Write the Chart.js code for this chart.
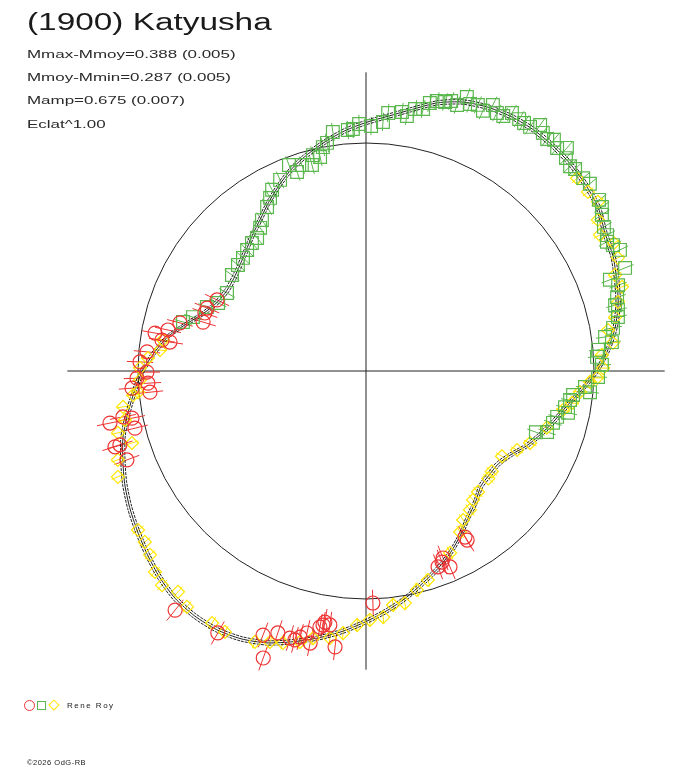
<!DOCTYPE html>
<html>
<head>
<meta charset="UTF-8">
<title>(1900) Katyusha</title>
<script src="https://cdn.jsdelivr.net/npm/chart.js"></script>
<style>
    body { margin: 0; background: #fff; }
    #wrap {
        position: relative; width: 688px; height: 768px; overflow: hidden;
        font-family: "Liberation Sans", Arial, sans-serif; color: #1a1a1a;
    }
    #chart { position: absolute; left: 0; top: 0; }
    .txt {
        position: absolute; left: 27px; white-space: nowrap; line-height: 1;
        transform-origin: 0 0; transform: scaleX(1.45);
    }
    #title { font-size: 23px; top: 10.5px; }
    .sub { font-size: 11.7px; color: #2a2a2a; }
    .mk { position: absolute; box-sizing: border-box; }
    #legtext { position: absolute; left: 67px; top: 702px; font-size: 8px; letter-spacing: 1.5px; line-height: 1; }
    #copy { position: absolute; left: 27px; top: 759px; font-size: 7.5px; letter-spacing: 0.5px; line-height: 1; }
</style>
</head>
<body>
<div id="wrap">
    <canvas id="chart" width="688" height="768"></canvas>
    <div id="title" class="txt">(1900) Katyusha</div>
    <div class="txt sub" style="top:47.6px">Mmax-Mmoy=0.388 (0.005)</div>
    <div class="txt sub" style="top:70.6px">Mmoy-Mmin=0.287 (0.005)</div>
    <div class="txt sub" style="top:94.1px">Mamp=0.675 (0.007)</div>
    <div class="txt sub" style="top:117.6px">Eclat^1.00</div>
    <div class="mk" style="left:23.5px;top:699.5px;width:11px;height:11px;border:1px solid #ee3333;border-radius:50%"></div>
    <div class="mk" style="left:37px;top:700.5px;width:9px;height:9px;border:1px solid #5bb84e"></div>
    <div class="mk" style="left:50.1px;top:701.1px;width:7.8px;height:7.8px;border:1px solid #ffe600;transform:rotate(45deg)"></div>
    <div id="legtext">Rene Roy</div>
    <div id="copy">©2026 OdG-RB</div>
</div>

<script>
    // polar light curve: angle = phase (deg, counter-clockwise from +x), radius in units of the mean circle
    const curveAngle = [-180, -175, -170, -165, -160, -155, -150, -145, -140, -135, -130, -125,
        -120, -115, -110, -105, -100, -95, -90, -85, -80, -75, -70, -65,
        -60, -55, -50, -45, -40, -35, -30, -25, -20, -15, -10, -5,
        0, 5, 10, 15, 20, 25, 30, 35, 40, 45, 50, 55,
        60, 65, 70, 75, 80, 85, 90, 95, 100, 105, 110, 115,
        120, 125, 130, 135, 140, 145, 150, 155, 160, 165, 170, 175];
    const curveRadius = [0.982, 1.020, 1.060, 1.103, 1.135, 1.168, 1.197, 1.224, 1.252, 1.280, 1.302, 1.311,
        1.310, 1.296, 1.269, 1.229, 1.188, 1.145, 1.099, 1.055, 1.010, 0.963, 0.922, 0.878,
        0.830, 0.782, 0.748, 0.713, 0.707, 0.709, 0.734, 0.777, 0.814, 0.853, 0.893, 0.950,
        1.012, 1.065, 1.110, 1.145, 1.170, 1.195, 1.210, 1.245, 1.262, 1.275, 1.283, 1.288,
        1.285, 1.275, 1.255, 1.218, 1.165, 1.122, 1.090, 1.058, 1.022, 0.985, 0.946, 0.900,
        0.854, 0.810, 0.776, 0.745, 0.722, 0.708, 0.705, 0.718, 0.752, 0.810, 0.880, 0.932];
    const curveBand = 0.01;

    const greenAngle = [165.0, 162.7, 158.1, 155.3, 150.7, 144.4, 140.4, 137.4, 134.5, 131.7, 129.3, 126.5,
        124.6, 121.1, 119.0, 117.4, 114.2, 110.5, 109.1, 107.3, 104.7, 103.8, 102.1, 100.9,
        99.7, 97.9, 94.3, 93.1, 91.6, 88.8, 86.1, 85.1, 82.1, 80.9, 79.4, 77.7,
        76.6, 75.3, 73.6, 72.5, 71.1, 69.8, 68.7, 67.2, 65.8, 64.5, 63.1, 61.7,
        60.5, 58.7, 57.5, 56.1, 54.7, 53.4, 52.0, 50.9, 49.4, 48.0, 46.8, 45.1,
        44.0, 41.6, 39.9, 36.3, 34.8, 33.5, 31.2, 29.4, 28.2, 27.0, 25.5, 21.7,
        20.5, 18.8, 16.4, 14.8, 13.6, 12.1, 9.9, 8.1, 6.7, 5.2, 3.5, 1.5,
        -1.5, -5.4, -4.2, -6.6, -8.1, -10.3, -11.7, -13.5, -15.5, -18.6, -19.8];
    const greenRadius = [0.831, 0.795, 0.752, 0.714, 0.699, 0.723, 0.729, 0.733, 0.744, 0.752, 0.754, 0.781,
        0.804, 0.840, 0.868, 0.895, 0.919, 0.965, 0.924, 0.946, 0.934, 0.975, 0.960, 1.000,
        1.015, 1.058, 1.060, 1.063, 1.084, 1.075, 1.095, 1.136, 1.147, 1.133, 1.169, 1.176,
        1.208, 1.224, 1.230, 1.242, 1.233, 1.281, 1.257, 1.266, 1.251, 1.293, 1.269, 1.270,
        1.300, 1.293, 1.290, 1.290, 1.322, 1.301, 1.291, 1.307, 1.288, 1.317, 1.281, 1.268,
        1.275, 1.274, 1.280, 1.268, 1.260, 1.241, 1.220, 1.214, 1.199, 1.216, 1.234, 1.223,
        1.142, 1.168, 1.148, 1.130, 1.137, 1.130, 1.100, 1.059, 1.086, 1.022, 1.015, 1.035,
        1.018, 0.987, 0.963, 0.914, 0.904, 0.887, 0.905, 0.862, 0.851, 0.838, 0.792];

    const yellowAngle = [42.4, 38.9, 36.1, 33.1, 30.2, 27.3, 24.2, 21.1, 18.2, 15.3, 12.2, 9.6,
        6.5, 3.9, 0.7, -1.7, -2.8, -5.6, -8.8, -11.2, -17.4, -23.7, -27.6, -32.1,
        -38.6, -41.3, -47.2, -50.3, -53.2, -56.9, -59.7, -65.2, -73.5, -76.9, -80.5, -83.4,
        -86.0, -89.1, -92.0, -95.0, -97.7, -101.2, -103.7, -107.0, -109.5, -112.3, -118.4, -121.4,
        -127.2, -130.4, -133.6, -136.4, -139.6, -142.3, -145.1, -156.9, -160.3, -162.9, -166.0, -168.5,
        -171.6, -174.1, -174.7, -177.7, 179.2, 176.6, 174.2, 171.3];
    const yellowRadius = [1.254, 1.251, 1.259, 1.214, 1.187, 1.224, 1.211, 1.171, 1.182, 1.146, 1.118, 1.077,
        1.090, 1.037, 1.040, 1.014, 0.984, 0.943, 0.914, 0.881, 0.831, 0.786, 0.748, 0.704,
        0.706, 0.714, 0.723, 0.735, 0.761, 0.780, 0.818, 0.879, 0.956, 0.986, 1.032, 1.033,
        1.082, 1.092, 1.115, 1.154, 1.182, 1.194, 1.223, 1.247, 1.261, 1.284, 1.301, 1.295,
        1.299, 1.272, 1.297, 1.278, 1.244, 1.226, 1.219, 1.183, 1.156, 1.074, 1.121, 1.079,
        1.077, 1.027, 1.004, 0.992, 0.991, 0.958, 0.908, 0.901];

    const redAngle = [-59.1, -59.2, -67.6, -66.8, -69.8, -68.3, -88.3, -96.4, -98.1, -99.6, -100.2, -102.7,
        -103.9, -105.9, -108.6, -111.3, -109.7, -119.5, -128.6, -101.6, -104.8, -99.3, -168.5, -166.1,
        -163.3, -159.6, -163.2, -175.8, -169.3, -178.2, -176.8, -179.7, 177.7, 175.0, 169.8, 168.3,
        171.6, 171.4, 163.3, 160.2, 154.5, 158.4, 165.5, -168.6, -174.4];
    const redRadius = [0.864, 0.848, 0.887, 0.935, 0.915, 0.902, 1.018, 1.218, 1.125, 1.130, 1.141, 1.178,
        1.202, 1.218, 1.212, 1.243, 1.337, 1.320, 1.342, 1.218, 1.220, 1.116, 1.146, 1.044,
        1.127, 1.119, 1.150, 1.029, 1.085, 1.005, 0.958, 0.961, 0.992, 0.964, 0.940, 0.887,
        0.869, 0.905, 0.746, 0.751, 0.724, 0.750, 0.843, 1.047, 0.952];

    // half length of the magnitude error bars (same units as the radius)
    const redErr = 0.058, greenErr = 0.04, yellowErr = 0.03;
    const axisHalf = 1.31;

    const RED = '#ee3333', GREEN = '#5bb84e', YELLOW = '#ffe600', INK = '#222222';

    function toXY(angles, radii, dr) {
        return angles.map((a, i) => {
            const t = a * Math.PI / 180, r = radii[i] + (dr || 0);
            return {x: r * Math.cos(t), y: r * Math.sin(t)};
        });
    }

    function closed(pts) {
        return pts.concat([pts[0]]);
    }

    const polarFrame = {
        id: 'polarFrame',
        beforeDatasetsDraw(chart) {
            const ctx = chart.ctx, xs = chart.scales.x, ys = chart.scales.y;
            const cx = xs.getPixelForValue(0), cy = ys.getPixelForValue(0);
            const rad = xs.getPixelForValue(1) - cx;
            ctx.save();
            ctx.strokeStyle = INK;
            ctx.lineWidth = 1;
            ctx.beginPath();
            ctx.arc(cx, cy, rad, 0, Math.PI * 2);
            ctx.stroke();
            ctx.beginPath();
            ctx.moveTo(xs.getPixelForValue(-axisHalf), cy);
            ctx.lineTo(xs.getPixelForValue(axisHalf), cy);
            ctx.moveTo(cx, ys.getPixelForValue(axisHalf));
            ctx.lineTo(cx, ys.getPixelForValue(-axisHalf));
            ctx.stroke();

            // radial error bars
            chart.data.datasets.forEach(ds => {
                if (!ds.errBar) return;
                ctx.strokeStyle = ds.borderColor;
                ctx.beginPath();
                ds.angles.forEach((a, i) => {
                    const t = a * Math.PI / 180;
                    const r0 = ds.radii[i] - ds.errBar, r1 = ds.radii[i] + ds.errBar;
                    ctx.moveTo(xs.getPixelForValue(r0 * Math.cos(t)), ys.getPixelForValue(r0 * Math.sin(t)));
                    ctx.lineTo(xs.getPixelForValue(r1 * Math.cos(t)), ys.getPixelForValue(r1 * Math.sin(t)));
                });
                ctx.stroke();
            });
            ctx.restore();
        }
    };

    function pointSet(label, angles, radii, color, style, size, err) {
        return {
            label: label,
            data: toXY(angles, radii),
            angles: angles,
            radii: radii,
            errBar: err,
            showLine: false,
            pointStyle: style,
            pointRadius: size,
            pointBorderWidth: 1.2,
            borderColor: color,
            pointBorderColor: color,
            pointBackgroundColor: 'rgba(0,0,0,0)'
        };
    }

    function curveSet(dr, dash) {
        return {
            label: 'fit',
            data: closed(toXY(curveAngle, curveRadius, dr)),
            showLine: true,
            pointRadius: 0,
            borderColor: INK,
            borderWidth: 1,
            borderDash: dash,
            tension: 0.25,
            fill: false
        };
    }

    const ctx = document.getElementById('chart').getContext('2d');
    new Chart(ctx, {
        type: 'scatter',
        data: {
            datasets: [
                pointSet('Rene Roy (1)', redAngle, redRadius, RED, 'circle', 7, redErr),
                pointSet('Rene Roy (2)', greenAngle, greenRadius, GREEN, 'rect', 9, greenErr),
                pointSet('Rene Roy (3)', yellowAngle, yellowRadius, YELLOW, 'rectRot', 6.5, yellowErr),
                curveSet(0, []),
                curveSet(curveBand, [3, 1]),
                curveSet(-curveBand, [3, 1])
            ]
        },
        options: {
            responsive: false,
            animation: false,
            events: [],
            layout: {autoPadding: false, padding: {left: 24, right: 2.8, top: 29, bottom: 55}},
            scales: {
                x: {type: 'linear', display: false, min: -1.5, max: 1.4},
                y: {type: 'linear', display: false, min: -1.5, max: 1.5}
            },
            plugins: {
                legend: {display: false},
                tooltip: {enabled: false}
            }
        },
        plugins: [polarFrame]
    });
</script>
</body>
</html>
